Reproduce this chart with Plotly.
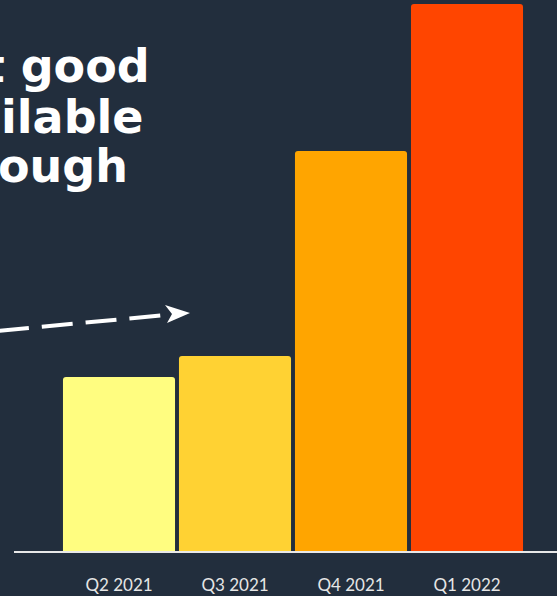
import plotly.graph_objects as go

categories = ["Q2 2021", "Q3 2021", "Q4 2021", "Q1 2022"]
values = [174, 195, 400, 547]
colors = ["#FFFD80", "#FFD233", "#FFA500", "#FF4500"]
headline = ["but good", "available", "enough"]

BG = "#222E3D"
W, H = 557, 596
ML, MB = 14, 45

def px(x):
    return (x - ML) / (W - ML)

def py(y):
    return (H - MB - y) / (H - MB)

fig = go.Figure(go.Bar(
    x=list(range(len(categories))), y=values,
    marker=dict(color=colors, line=dict(width=0)),
    width=0.966,
))

x0 = (ML - 119) / 116
x1 = (W - 119) / 116

annos = []
line_pos = [(152, 66), (146, 117), (130, 166)]
for txt, (xr, yc) in zip(headline, line_pos):
    annos.append(dict(
        text=txt, xref="paper", yref="paper", x=px(xr), y=py(yc),
        xanchor="right", yanchor="middle", showarrow=False,
        font=dict(family="DejaVu Sans", size=46, color="white", weight="bold"),
    ))

shapes = [
    dict(type="line", xref="paper", yref="paper",
         x0=px(-2), y0=py(331), x1=px(170), y1=py(314.5),
         line=dict(color="white", width=4, dash="31px,13px")),
    dict(type="path", xref="paper", yref="paper",
         path=f"M {px(190)},{py(313)} L {px(165)},{py(305)} L {px(172)},{py(314)} L {px(167)},{py(323)} Z",
         fillcolor="white", line=dict(color="white", width=0)),
]

fig.update_layout(
    width=W, height=H,
    margin=dict(l=ML, r=0, t=0, b=MB),
    paper_bgcolor=BG, plot_bgcolor=BG,
    barcornerradius=3,
    showlegend=False,
    annotations=annos,
    shapes=shapes,
    xaxis=dict(
        range=[x0, x1], tickmode="array", tickvals=list(range(len(categories))),
        ticktext=categories, showgrid=False, zeroline=False,
        showline=True, linecolor="#E8E8E8", linewidth=2,
        ticks="", ticklabelstandoff=18,
        tickfont=dict(family="Lato", size=17, color="#E6E6E6"),
    ),
    yaxis=dict(range=[0, 551], visible=False, showgrid=False, zeroline=False),
)

fig.write_html("out.html")
